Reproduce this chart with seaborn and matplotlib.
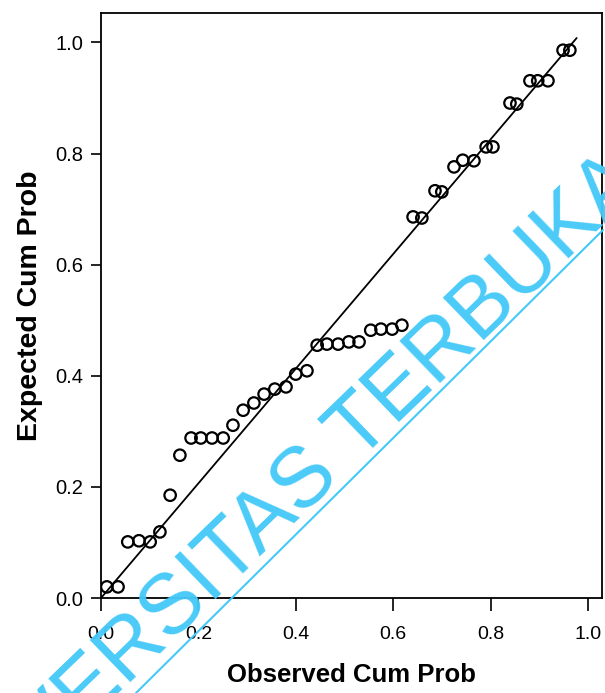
import matplotlib
matplotlib.use("Agg")
import matplotlib.pyplot as plt
import seaborn as sns
import pandas as pd
from matplotlib.lines import Line2D

# Observed vs expected cumulative probabilities
observed = [0.012, 0.035, 0.055, 0.078, 0.101, 0.121, 0.142, 0.162, 0.185, 0.205,
            0.228, 0.251, 0.271, 0.292, 0.314, 0.335, 0.357, 0.380, 0.400, 0.423,
            0.444, 0.464, 0.487, 0.509, 0.530, 0.554, 0.575, 0.598, 0.618, 0.641,
            0.659, 0.686, 0.700, 0.725, 0.743, 0.766, 0.791, 0.805, 0.840, 0.854,
            0.881, 0.897, 0.918, 0.949, 0.963]
expected = [0.020, 0.020, 0.101, 0.103, 0.101, 0.119, 0.185, 0.257, 0.288, 0.288,
            0.288, 0.288, 0.311, 0.338, 0.351, 0.367, 0.376, 0.380, 0.403, 0.409,
            0.455, 0.457, 0.457, 0.461, 0.461, 0.482, 0.484, 0.484, 0.491, 0.686,
            0.684, 0.733, 0.731, 0.776, 0.788, 0.787, 0.812, 0.812, 0.891, 0.889,
            0.931, 0.931, 0.931, 0.986, 0.986]
line_x = [0.0, 0.977]
line_y = [0.0, 1.008]
tick_values = [0.0, 0.2, 0.4, 0.6, 0.8, 1.0]
tick_labels = ["0.0", "0.2", "0.4", "0.6", "0.8", "1.0"]
x_title = "Observed Cum Prob"
y_title = "Expected Cum Prob"
watermark = "UNIVERSITAS TERBUKA"

df = pd.DataFrame({"observed": observed, "expected": expected})

sns.set_theme(style="white")
plt.rcParams["font.family"] = ["Liberation Sans", "DejaVu Sans"]

fig = plt.figure(figsize=(6.05, 6.93), dpi=100)
ax = fig.add_axes([101 / 605, 95 / 693, 501 / 605, 585 / 693])

ax.plot(line_x, line_y, color="black", lw=1.3, zorder=2)
sns.scatterplot(data=df, x="observed", y="expected", ax=ax, marker="o", s=68,
                facecolor="none", edgecolor="black", linewidth=1.6, zorder=3)

ax.set_xlim(0, 1.029)
ax.set_ylim(0, 1.053)
ax.set_xticks(tick_values)
ax.set_xticklabels(tick_labels)
ax.set_yticks(tick_values)
ax.set_yticklabels(tick_labels)
ax.tick_params(axis="x", direction="out", length=9, width=1.2, pad=11,
               labelsize=14, colors="black", bottom=True)
ax.tick_params(axis="y", direction="out", length=7, width=1.2, pad=6,
               labelsize=14.5, colors="black", left=True)
for sp in ax.spines.values():
    sp.set_color("black")
    sp.set_linewidth(1.3)

ax.set_xlabel(x_title, fontsize=18.5, fontweight="bold", color="black")
ax.set_ylabel(y_title, fontsize=20.5, fontweight="bold", color="black")
ax.xaxis.set_label_coords(0.5, (598 - 675) / 585)
ax.xaxis.label.set_va("center")
ax.yaxis.set_label_coords((30 - 101) / 501, 0.5)
ax.yaxis.label.set_va("center")

# watermark overlay
wm_color = "#45C9F8"
fig.text(292 / 605, (693 - 525) / 693, watermark, fontsize=61, color=wm_color,
         rotation=44, rotation_mode="anchor", ha="center", va="baseline",
         zorder=10, alpha=0.97)
fig.add_artist(Line2D([136 / 605, 603 / 605], [0.0, (693 - 230) / 693],
                      transform=fig.transFigure, color=wm_color, lw=1.5, zorder=10))

fig.savefig("out.png", dpi=100)
